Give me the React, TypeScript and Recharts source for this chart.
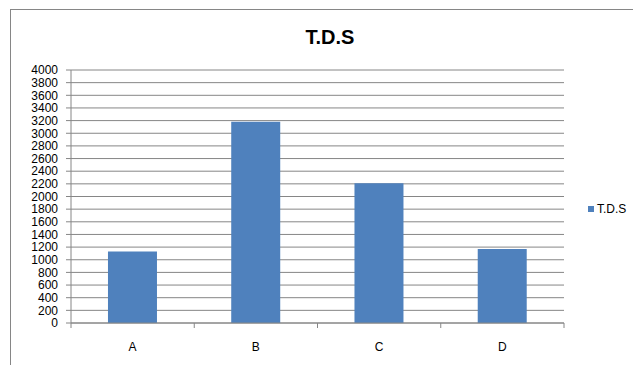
import { BarChart, Bar, XAxis, YAxis, CartesianGrid, Legend } from "recharts";

const sites = ["A", "B", "C", "D"];
const tdsValues = [1130, 3180, 2210, 1170];
const yTicks = [
  0, 200, 400, 600, 800, 1000, 1200, 1400, 1600, 1800, 2000, 2200, 2400, 2600, 2800, 3000, 3200, 3400,
  3600, 3800, 4000,
];

const rows = sites.map((site, i) => ({ site, tds: tdsValues[i] }));

const FONT = "'Liberation Sans', Arial, sans-serif";
const GRID = "#868686";
const BLUE = "#4F81BD";

// category label below the axis, with tick marks on the band edges
function SiteTick(props: any) {
  const { x, y, payload, index, visibleTicksCount } = props;
  const half = payload.offset ?? 0;
  const last = index === visibleTicksCount - 1;
  return (
    <g>
      <line x1={x - half} x2={x - half} y1={y} y2={y + 5} stroke={GRID} />
      {last && <line x1={x + half} x2={x + half} y1={y} y2={y + 5} stroke={GRID} />}
      <text x={x} y={y + 28} textAnchor="middle" fill="#000" fontSize={12} fontFamily={FONT}>
        {payload.value}
      </text>
    </g>
  );
}

function LegendBox() {
  return (
    <div style={{ display: "flex", alignItems: "center", fontFamily: FONT, fontSize: 12, color: "#000" }}>
      <span style={{ width: 6, height: 6, background: BLUE, marginRight: 3, display: "inline-block" }} />
      T.D.S
    </div>
  );
}

export default function App() {
  return (
    <div style={{ position: "fixed", left: 0, top: 0, width: 633, height: 365, background: "#fff", overflow: "hidden" }}>
      <div
        style={{
          position: "absolute",
          left: 10,
          top: 9,
          width: 700,
          height: 400,
          borderTop: `1px solid ${GRID}`,
          borderLeft: `1px solid ${GRID}`,
        }}
      />
      <div
        style={{
          position: "absolute",
          left: 0,
          top: 26,
          width: 660,
          textAlign: "center",
          fontFamily: FONT,
          fontWeight: "bold",
          fontSize: 20,
          color: "#000",
        }}
      >
        T.D.S
      </div>
      <div style={{ position: "absolute", left: 0, top: 0 }}>
        <BarChart
          width={633}
          height={365}
          data={rows}
          margin={{ top: 70, right: 19, left: 0, bottom: 0 }}
          barCategoryGap="30%"
        >
          <CartesianGrid vertical={false} stroke={GRID} />
          <XAxis
            dataKey="site"
            height={42}
            stroke={GRID}
            tickLine={false}
            tickSize={0}
            tickMargin={0}
            interval={0}
            tick={<SiteTick />}
          />
          <YAxis
            width={71}
            domain={[0, 4000]}
            ticks={yTicks}
            interval={0}
            stroke={GRID}
            tickSize={5}
            tickMargin={8}
            tick={{ fill: "#000", fontSize: 12, fontFamily: FONT }}
          />
          <Legend
            layout="horizontal"
            verticalAlign="middle"
            align="right"
            wrapperStyle={{ left: 588, top: 202, width: 50 }}
            content={<LegendBox />}
          />
          <Bar dataKey="tds" name="T.D.S" fill={BLUE} isAnimationActive={false} />
        </BarChart>
      </div>
    </div>
  );
}
